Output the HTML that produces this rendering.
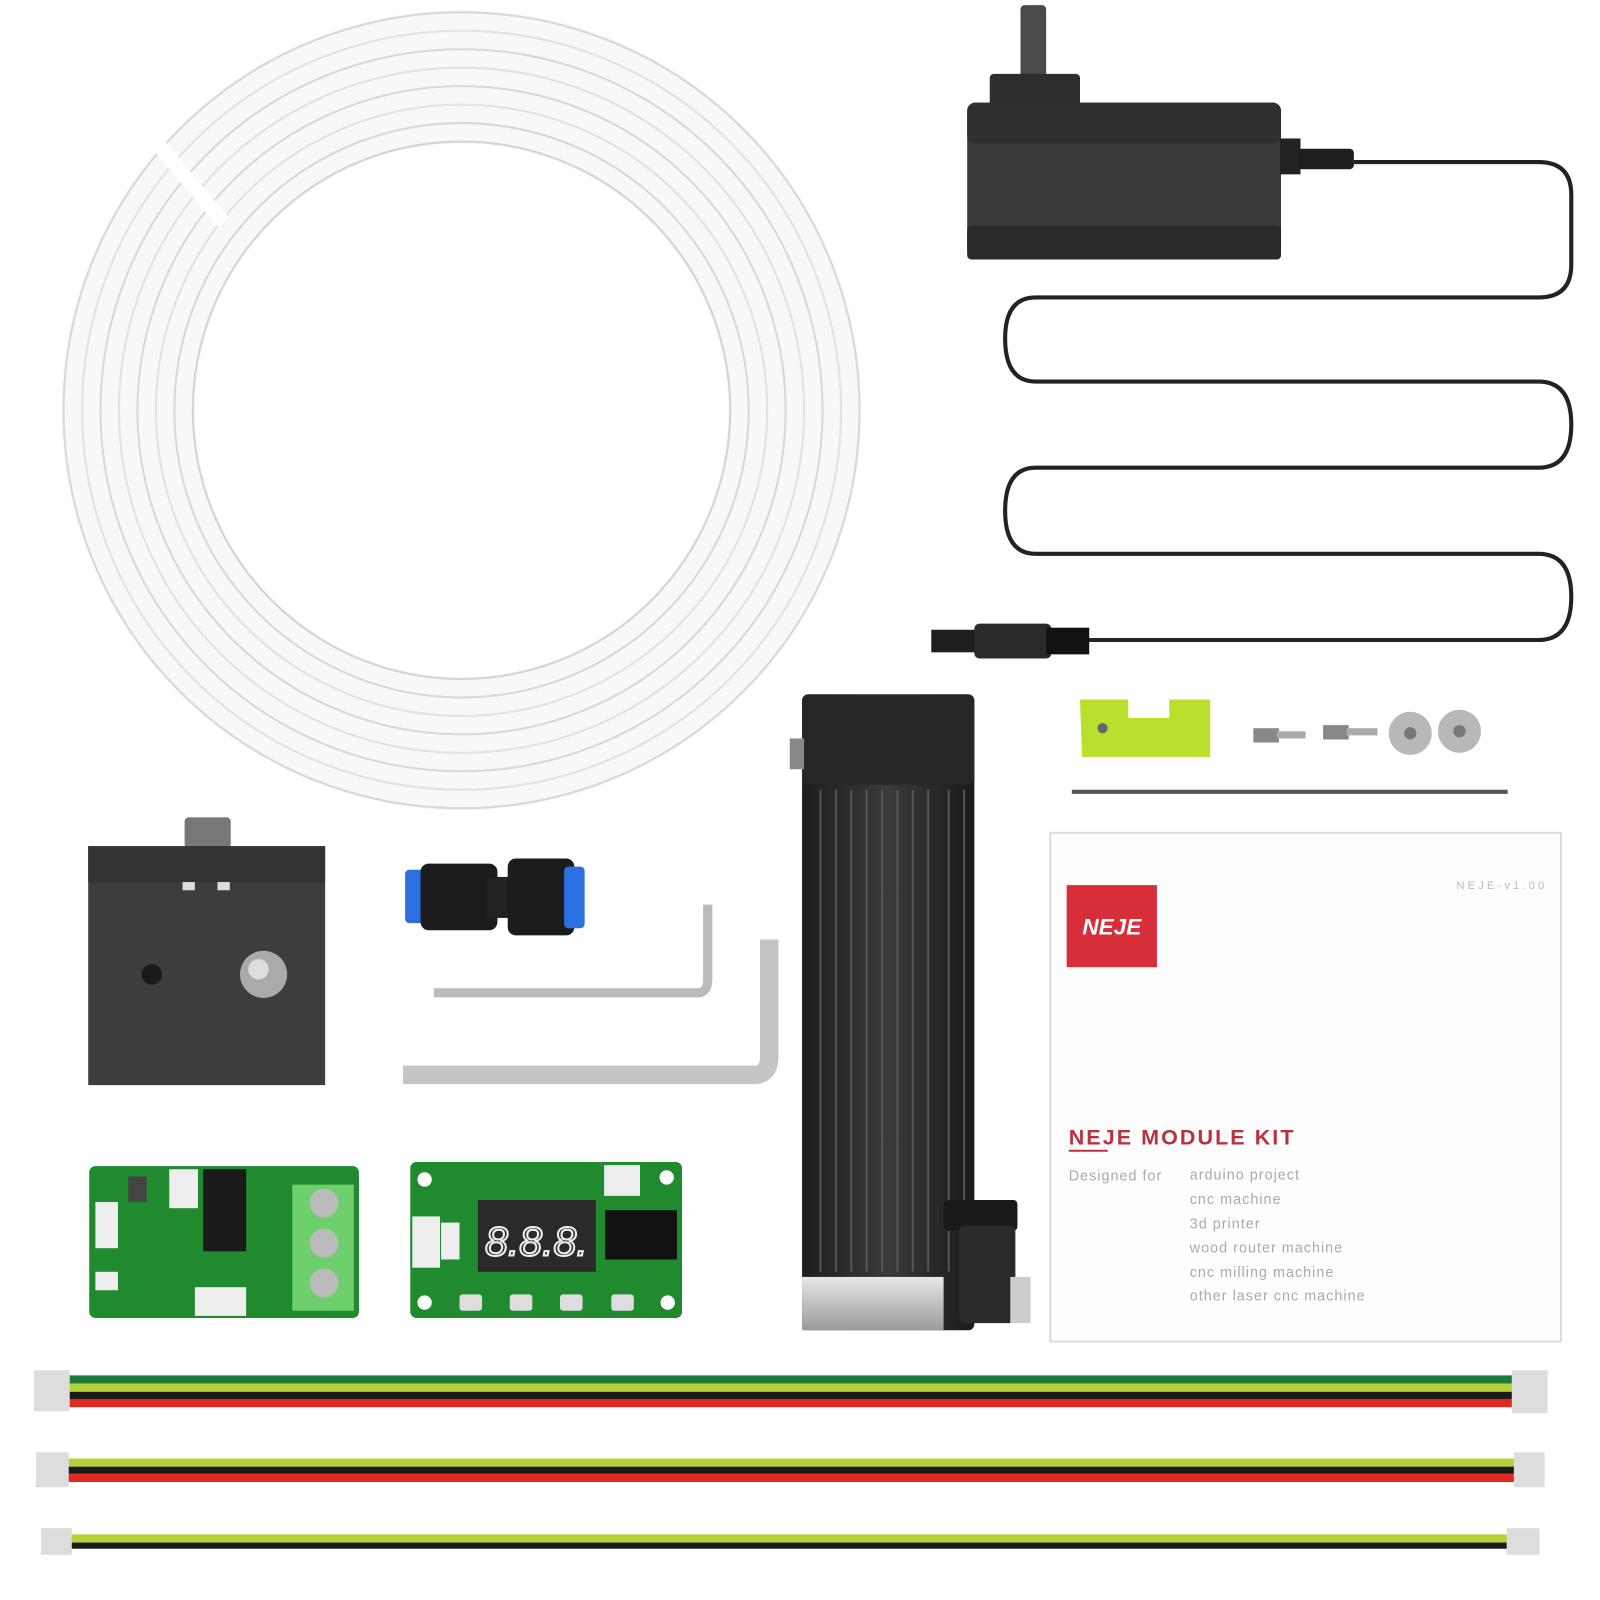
<!DOCTYPE html>
<html><head><meta charset="utf-8"><style>
html,body{margin:0;padding:0;background:#fff;}
svg{display:block;}
text{font-family:"Liberation Sans",sans-serif;}
</style></head><body>
<svg width="1600" height="1600" viewBox="0 0 1560 1560" xmlns="http://www.w3.org/2000/svg">
<defs>
<linearGradient id="alu" x1="0" y1="0" x2="0" y2="1"><stop offset="0" stop-color="#e8e8e8"/><stop offset="1" stop-color="#9a9a9a"/></linearGradient>
<linearGradient id="blk" x1="0" y1="0" x2="1" y2="0"><stop offset="0" stop-color="#1e1e1e"/><stop offset="0.5" stop-color="#3a3a3a"/><stop offset="1" stop-color="#1a1a1a"/></linearGradient>
</defs>
<rect width="1560" height="1560" fill="#fff"/>

<!-- tube coil -->
<g fill="none">
<circle cx="450" cy="400" r="325" stroke="#f8f8f8" stroke-width="130"/>
<circle cx="450" cy="400" r="388" stroke="#d8d8d8" stroke-width="2"/>
<circle cx="450" cy="400" r="370" stroke="#e2e2e2" stroke-width="2"/>
<circle cx="450" cy="400" r="352" stroke="#d8d8d8" stroke-width="2"/>
<circle cx="450" cy="400" r="334" stroke="#e2e2e2" stroke-width="2"/>
<circle cx="450" cy="400" r="316" stroke="#d8d8d8" stroke-width="2"/>
<circle cx="450" cy="400" r="298" stroke="#e2e2e2" stroke-width="2"/>
<circle cx="450" cy="400" r="280" stroke="#d8d8d8" stroke-width="2"/>
<circle cx="450" cy="400" r="262" stroke="#d4d4d4" stroke-width="2"/>
</g>
<rect x="172" y="110" width="14" height="120" fill="#fff" transform="rotate(-40 180 170)"/>

<!-- power adapter -->
<rect x="995" y="5" width="25" height="75" rx="4" fill="#4a4a4a"/>
<rect x="965" y="72" width="88" height="32" rx="4" fill="#2e2e2e"/>
<rect x="943" y="100" width="306" height="153" rx="8" fill="#3a3a3a"/>
<rect x="943" y="100" width="306" height="40" rx="8" fill="#2f2f2f"/>
<rect x="943" y="220" width="306" height="33" rx="4" fill="#2a2a2a"/>
<rect x="1248" y="135" width="20" height="35" fill="#222"/>
<rect x="1265" y="145" width="55" height="20" rx="4" fill="#1e1e1e"/>
<path d="M1320 158 H1500 Q1532 158 1532 190 V258 Q1532 290 1500 290 H1010 Q980 290 980 330 Q980 372 1010 372 H1500 Q1532 372 1532 414 Q1532 456 1500 456 H1010 Q980 456 980 498 Q980 540 1010 540 H1500 Q1532 540 1532 582 Q1532 624 1500 624 H1060" fill="none" stroke="#222" stroke-width="4"/>
<rect x="908" y="614" width="45" height="22" fill="#1e1e1e"/>
<rect x="950" y="608" width="75" height="34" rx="5" fill="#2a2a2a"/>
<rect x="1020" y="612" width="42" height="26" fill="#111"/>

<!-- laser module -->
<rect x="782" y="677" width="168" height="620" rx="6" fill="url(#blk)"/>
<rect x="782" y="677" width="168" height="88" rx="6" fill="#262626"/>
<rect x="770" y="720" width="14" height="30" fill="#888"/>
<g stroke="#555" stroke-width="2">
<line x1="800" y1="770" x2="800" y2="1240"/><line x1="815" y1="770" x2="815" y2="1240"/><line x1="830" y1="770" x2="830" y2="1240"/><line x1="845" y1="770" x2="845" y2="1240"/><line x1="860" y1="770" x2="860" y2="1240"/><line x1="875" y1="770" x2="875" y2="1240"/><line x1="890" y1="770" x2="890" y2="1240"/><line x1="905" y1="770" x2="905" y2="1240"/><line x1="925" y1="770" x2="925" y2="1240"/><line x1="940" y1="770" x2="940" y2="1240"/>
</g>
<rect x="782" y="1245" width="138" height="52" fill="url(#alu)"/>
<rect x="920" y="1170" width="72" height="30" rx="4" fill="#1a1a1a"/>
<rect x="935" y="1195" width="55" height="95" rx="6" fill="#2a2a2a"/>
<rect x="985" y="1245" width="20" height="45" fill="#ccc"/>

<!-- bracket, screws, washers -->
<path d="M1053 682 L1100 682 L1100 700 L1140 700 L1140 682 L1180 682 L1180 738 L1055 738 Z" fill="#b9e02c"/>
<circle cx="1075" cy="710" r="5" fill="#666"/>
<rect x="1222" y="710" width="25" height="14" fill="#888"/><rect x="1245" y="713" width="28" height="7" fill="#aaa"/>
<rect x="1290" y="707" width="25" height="14" fill="#888"/><rect x="1313" y="710" width="30" height="7" fill="#aaa"/>
<circle cx="1375" cy="715" r="21" fill="#b8b8b8"/><circle cx="1375" cy="715" r="6" fill="#777"/>
<circle cx="1423" cy="713" r="21" fill="#b8b8b8"/><circle cx="1423" cy="713" r="6" fill="#777"/>
<line x1="1045" y1="772" x2="1470" y2="772" stroke="#555" stroke-width="4"/>

<!-- manual -->
<rect x="1024" y="812" width="498" height="496" fill="#fdfdfd" stroke="#ddd" stroke-width="2"/>
<rect x="1040" y="863" width="88" height="80" fill="#d72e3a"/>
<text x="1084" y="911" font-size="22" font-weight="bold" font-style="italic" fill="#fff" text-anchor="middle">NEJE</text>
<text x="1420" y="867" font-size="11" fill="#bbb" letter-spacing="3">NEJE-v1.00</text>
<text x="1042" y="1116" font-size="21" font-weight="bold" fill="#b8333f" letter-spacing="2">NEJE MODULE KIT</text>
<line x1="1042" y1="1122" x2="1080" y2="1122" stroke="#b8333f" stroke-width="2"/>
<g font-size="14" fill="#aaa" letter-spacing="1">
<text x="1042" y="1151">Designed for</text>
<text x="1160" y="1150">arduino project</text>
<text x="1160" y="1174">cnc machine</text>
<text x="1160" y="1198">3d printer</text>
<text x="1160" y="1221">wood router machine</text>
<text x="1160" y="1245">cnc milling machine</text>
<text x="1160" y="1268">other laser cnc machine</text>
</g>

<!-- block -->
<rect x="180" y="797" width="45" height="30" rx="4" fill="#777"/>
<rect x="86" y="825" width="231" height="233" fill="#3d3d3d"/>
<rect x="86" y="825" width="231" height="35" fill="#333"/>
<rect x="178" y="860" width="12" height="8" fill="#ddd"/><rect x="212" y="860" width="12" height="8" fill="#ddd"/>
<circle cx="148" cy="950" r="10" fill="#1a1a1a"/>
<circle cx="257" cy="950" r="23" fill="#aaa"/><circle cx="252" cy="945" r="10" fill="#ddd"/>

<!-- coupler -->
<rect x="395" y="848" width="20" height="52" rx="4" fill="#2b6fe0"/>
<rect x="410" y="842" width="75" height="65" rx="8" fill="#1c1c1c"/>
<rect x="475" y="855" width="30" height="40" fill="#222"/>
<rect x="495" y="837" width="65" height="75" rx="8" fill="#1c1c1c"/>
<rect x="550" y="845" width="20" height="60" rx="4" fill="#2b6fe0"/>

<!-- hex keys -->
<path d="M423 968 H680 Q690 968 690 955 V882" fill="none" stroke="#bbb" stroke-width="9"/>
<path d="M393 1048 H735 Q750 1048 750 1030 V916" fill="none" stroke="#c4c4c4" stroke-width="18"/>

<!-- PCB 1 -->
<rect x="87" y="1137" width="263" height="148" rx="6" fill="#1f8a2e"/>
<rect x="93" y="1172" width="22" height="45" fill="#eee"/>
<rect x="125" y="1147" width="18" height="25" fill="#444"/>
<rect x="165" y="1140" width="28" height="38" fill="#eee"/>
<rect x="198" y="1140" width="42" height="80" fill="#1a1a1a"/>
<rect x="93" y="1240" width="22" height="18" fill="#eee"/>
<rect x="190" y="1255" width="50" height="28" fill="#eee"/>
<rect x="285" y="1155" width="60" height="123" fill="#6dd06d"/>
<circle cx="316" cy="1173" r="14" fill="#bbb"/><circle cx="316" cy="1212" r="14" fill="#bbb"/><circle cx="316" cy="1251" r="14" fill="#bbb"/>

<!-- PCB 2 -->
<rect x="400" y="1133" width="265" height="152" rx="6" fill="#1f8a2e"/>
<circle cx="414" cy="1150" r="7" fill="#fff"/><circle cx="650" cy="1148" r="7" fill="#fff"/>
<circle cx="414" cy="1270" r="7" fill="#fff"/><circle cx="651" cy="1270" r="7" fill="#fff"/>
<rect x="589" y="1136" width="35" height="30" fill="#eee"/>
<rect x="402" y="1186" width="27" height="50" fill="#eee"/>
<rect x="430" y="1192" width="18" height="36" fill="#eee"/>
<rect x="466" y="1170" width="115" height="70" fill="#2a2a2a"/>
<text x="523" y="1224" font-size="40" fill="none" stroke="#eee" stroke-width="2" font-style="italic" text-anchor="middle">8.8.8.</text>
<rect x="590" y="1180" width="70" height="48" fill="#111"/>
<rect x="448" y="1262" width="22" height="16" rx="3" fill="#ddd"/><rect x="497" y="1262" width="22" height="16" rx="3" fill="#ddd"/>
<rect x="546" y="1262" width="22" height="16" rx="3" fill="#ddd"/><rect x="596" y="1262" width="22" height="16" rx="3" fill="#ddd"/>

<!-- wires -->
<rect x="65" y="1341" width="1412" height="8" fill="#1d7a3a"/>
<rect x="65" y="1349" width="1412" height="8" fill="#b3d23a"/>
<rect x="65" y="1357" width="1412" height="7" fill="#1a1a1a"/>
<rect x="65" y="1364" width="1412" height="8" fill="#e02a1f"/>
<rect x="33" y="1336" width="35" height="40" fill="#ddd"/><rect x="1474" y="1336" width="35" height="42" fill="#ddd"/>

<rect x="65" y="1422" width="1412" height="8" fill="#b3d23a"/>
<rect x="65" y="1430" width="1412" height="7" fill="#1a1a1a"/>
<rect x="65" y="1437" width="1412" height="8" fill="#e02a1f"/>
<rect x="35" y="1416" width="32" height="34" fill="#ddd"/><rect x="1476" y="1416" width="30" height="34" fill="#ddd"/>

<rect x="65" y="1496" width="1412" height="8" fill="#b3d23a"/>
<rect x="65" y="1504" width="1412" height="6" fill="#1a1a1a"/>
<rect x="40" y="1490" width="30" height="26" fill="#ddd"/><rect x="1469" y="1490" width="32" height="26" fill="#ddd"/>
</svg>
</body></html>
